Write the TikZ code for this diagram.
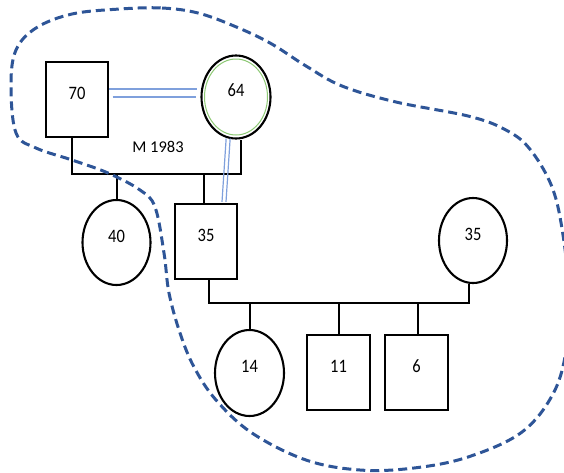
\documentclass[tikz,border=0pt]{standalone}
\usepackage{fontspec}
\setmainfont{Carlito}
\usetikzlibrary{shapes.geometric}
\definecolor{blobblue}{HTML}{2E5597}
\definecolor{linkblue}{HTML}{7FA0DC}
\definecolor{ringgreen}{HTML}{8CC873}
\newcommand\tallnum[1]{\scalebox{1}[1.15]{#1}}
\begin{document}
\begin{tikzpicture}[x=1pt,y=-1pt,
  every node/.style={font=\fontsize{16.5}{16.5}\selectfont, text depth=13pt, inner sep=0pt},
  male/.style={draw, line width=2.3pt, rectangle, minimum width=62pt, minimum height=75pt},
  female/.style={draw, line width=2.1pt, ellipse, minimum width=68pt, minimum height=85pt},
  kin/.style={line width=2pt},
  link/.style={draw=linkblue, line width=1.2pt},
  blob/.style={draw=blobblue, line width=3pt, dash pattern=on 9pt off 5pt}
]
\useasboundingbox (0,0) rectangle (564,472);

% first generation
\node[male]   (m70) at (77,99.5) {\tallnum{70}};
\node[female, minimum width=69pt, minimum height=83pt] (f64) at (236,97) {\tallnum{64}};
\draw[ringgreen, line width=1pt] (f64.center) ellipse [x radius=31.5pt, y radius=38pt];
\node at (158,153) {M 1983};

% second generation
\node[female] (c40) at (116.5,242.5) {\tallnum{40}};
\node[male]   (s35) at (206,241.5) {\tallnum{35}};
\node[female] (f35) at (473,240.5) {\tallnum{35}};

% third generation
\node[female, minimum width=69pt, minimum height=86pt] (c14) at (249.5,373) {\tallnum{14}};
\node[male, minimum width=63pt] (s11) at (338.5,372.5) {\tallnum{11}};
\node[male, minimum width=63pt] (s6)  at (416.5,372.5) {\tallnum{6}};

% marriage lines
\coordinate (u1) at (72,174);
\coordinate (u2) at (241,174);
\draw[kin] (m70.south -| u1) -- (u1) -- (u2) -- (f64.south -| u2);
\coordinate (v1) at (208.6,303);
\coordinate (v2) at (469.4,303);
\draw[kin] (s35.south -| v1) -- (v1) -- (v2) -- (f35.south -| v2);

% descent lines
\draw[kin] (c40.north) -- (c40.north |- u1);
\draw[kin] ([xshift=-2pt]s35.north) -- ([xshift=-2pt]s35.north |- u1);
\draw[kin] (c14.north) -- (c14.north |- v1);
\draw[kin] (s11.north) -- (s11.north |- v1);
\draw[kin] ([xshift=1.5pt]s6.north) -- ([xshift=1.5pt]s6.north |- v1);

% close relationships (double lines)
\coordinate (k1) at ([yshift=10.5pt]m70.east);
\coordinate (k2) at ([xshift=3.5pt,yshift=2.5pt]m70.east);
\draw[link] (k1) -- ([xshift=-3pt]k1 -| f64.west);
\draw[link] (k2) -- ([xshift=-4pt]k2 -| f64.west);
\draw[link] ([xshift=-1.8pt]f64.259) -- ([xshift=16pt,yshift=1pt]s35.north);
\draw[link] ([xshift=2.2pt]f64.259) -- ([xshift=20pt,yshift=1pt]s35.north);

% household boundary
\draw[blob] plot[smooth cycle, tension=0.6] coordinates {
  (120,9) (162,8) (198,13) (234,26) (270,43) (306,66) (342,86) (396,102)
  (468,116) (504,129) (529,148) (552,187) (563,235) (569,295) (567,345)
  (554,392) (522,432) (468,457) (414,468) (360,470) (306,460) (252,433)
  (216,400) (194,367) (180,333) (169,293) (164,253) (155,207) (140,190)
  (108,173) (72,160) (36,148) (16,133) (11,85) (16,50) (36,28) (72,14)};
\end{tikzpicture}
\end{document}
